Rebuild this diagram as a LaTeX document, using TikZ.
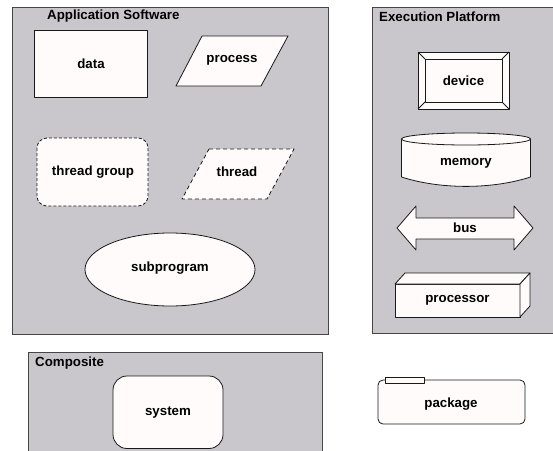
\documentclass[tikz,border=0pt]{standalone}
\usepackage{fontspec}
\setmainfont{Liberation Sans}
\begin{document}
\begin{tikzpicture}[x=1pt,y=-1pt,
  every node/.style={font=\fontsize{13.3}{15}\selectfont\bfseries, inner sep=0pt},
  grp/.style={draw={rgb,255:red,70;green,70;blue,70}, fill={rgb,255:red,201;green,199;blue,203}, line width=0.9pt},
  shp/.style={draw={rgb,255:red,25;green,25;blue,25}, fill={rgb,255:red,255;green,251;blue,251}, line width=0.8pt, line join=round},
  dsh/.style={shp, dash pattern=on 4pt off 3pt},
  dshs/.style={shp, dash pattern=on 3pt off 2pt},
  ttl/.style={anchor=west}
]
\useasboundingbox (0,0) rectangle (553,450);
% groups
\path[grp] (12,7) rectangle (328,334);
\path[grp] (372,7) rectangle (558,333);
\path[grp] (28,352) rectangle (322,460);
\node[ttl] (tapp) at (47,16) {Application Software};
\node[ttl] (texe) at (379,17) {Execution Platform};
\node[ttl] (tcom) at (35,363) {Composite};
% application software
\path[shp] (34,30) rectangle (147.5,97.5);
\node (data) at (91,64) {data};
\path[shp] (202,36) -- (288,36) -- (261,86) -- (176,86) -- cycle;
\node (process) at (232,60) {process};
\path[dshs] (37,138) [rounded corners=10pt] rectangle (148,206);
\node (tgroup) at (93,172) {thread group};
\path[dsh] (209,149) -- (294,149) -- (267,199) -- (182,199) -- cycle;
\node (thread) at (237,172) {thread};
\path[shp] (170,269.5) ellipse [x radius=85, y radius=36.5];
\node (subprogram) at (170,268) {subprogram};
% execution platform
\path[shp] (418,52) rectangle (509,109);
\draw[shp] (425,59) rectangle (502,102);
\draw[shp] (418,52) -- (425,59) (509,52) -- (502,59) (418,109) -- (425,102) (509,109) -- (502,102);
\node (device) at (463.5,81) {device};
\path[shp] (401.5,139) -- (401.5,177) .. controls (440,189.5) and (492,189.5) .. (530.5,177) -- (530.5,139) -- cycle;
\draw[shp] (466,139) ellipse [x radius=64.5, y radius=6];
\node (memory) at (466,163) {memory};
\path[shp] (397,228) -- (416,206) -- (416,218) -- (514,218) -- (514,206) -- (533,228) -- (514,250) -- (514,239) -- (416,239) -- (416,250) -- cycle;
\node (bus) at (465,228) {bus};
\path[shp] (395,284) rectangle (520,317);
\path[shp] (395,284) -- (405,273) -- (530,273) -- (520,284) -- cycle;
\path[shp] (520,284) -- (530,273) -- (530,306) -- (520,317) -- cycle;
\node (processor) at (457.5,300) {processor};
% composite
\path[shp] (113,376) [rounded corners=14pt] rectangle (223,448.5);
\node (system) at (168,413) {system};
% package
\path[shp] (378,380) [rounded corners=5pt] rectangle (525,424);
\path[shp] (385,377) rectangle (424,383);
\node (package) at (451,404) {package};
\end{tikzpicture}
\end{document}
